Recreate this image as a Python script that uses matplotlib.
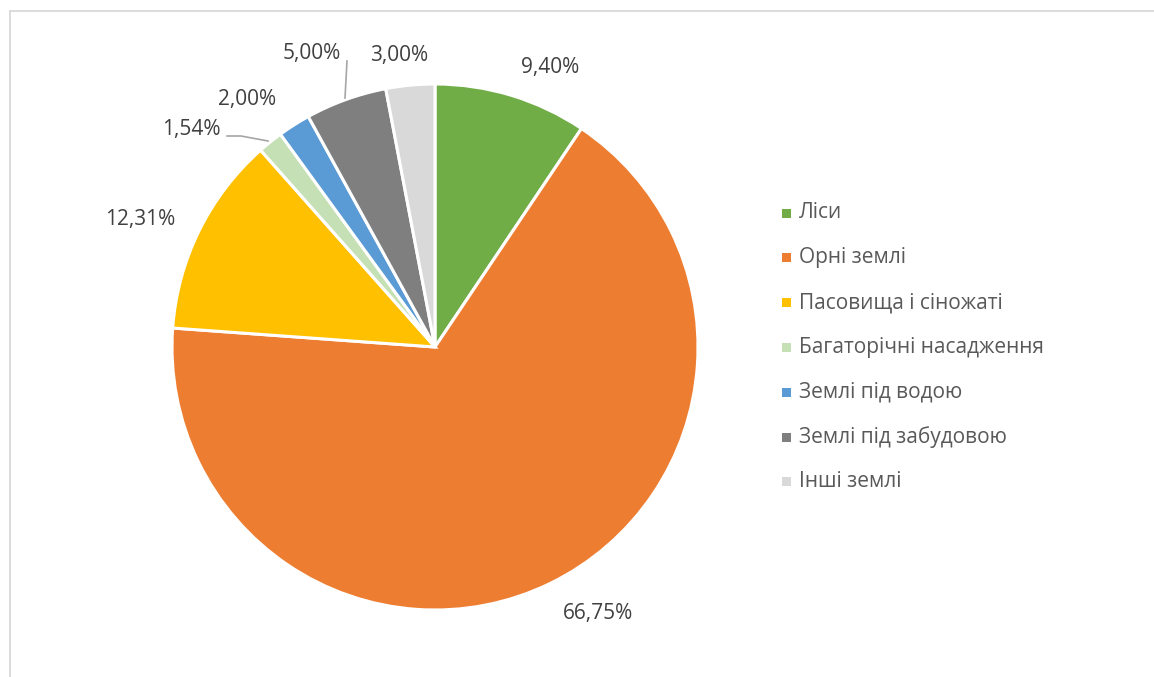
import matplotlib
matplotlib.use("Agg")
import matplotlib.pyplot as plt
from matplotlib.patches import Rectangle
from matplotlib.lines import Line2D

categories = ["Ліси", "Орні землі", "Пасовища і сіножаті", "Багаторічні насадження",
              "Землі під водою", "Землі під забудовою", "Інші землі"]
values = [9.40, 66.75, 12.31, 1.54, 2.00, 5.00, 3.00]
value_labels = ["9,40%", "66,75%", "12,31%", "1,54%", "2,00%", "5,00%", "3,00%"]
colors = ["#70AD47", "#ED7D31", "#FFC000", "#C5E0B4", "#5B9BD5", "#7F7F7F", "#D9D9D9"]

# label positions in pixel coordinates (x, y from top)
label_pos = [(550, 68), (598, 613), (140, 219), (191, 130), (247, 99), (312, 54), (399, 56)]

W, H = 1154, 677
plt.rcParams['font.family'] = ['Open Sans', 'DejaVu Sans']

fig = plt.figure(figsize=(W / 100, H / 100), dpi=100)
ax = fig.add_axes([0, 0, 1, 1])

cx, cy, r = 435, 347, 263
ax.pie(values, colors=colors, startangle=90, counterclock=False,
       center=(cx, H - cy), radius=r,
       wedgeprops=dict(edgecolor="white", linewidth=2.2))
ax.set_xlim(0, W)
ax.set_ylim(0, H)
ax.set_aspect('auto')
ax.axis('off')

label_color = "#404040"
for (x, y), t in zip(label_pos, value_labels):
    ax.text(x, H - y, t, ha='center', va='center', fontsize=15, color=label_color)

# leader lines
lc = "#A6A6A6"
ax.add_line(Line2D([227, 241, 268], [H - 136, H - 136, H - 141], color=lc, lw=1.2))
ax.add_line(Line2D([347, 347, 345], [H - 61, H - 61, H - 98], color=lc, lw=1.2))

# legend
leg_color = "#595959"
for i, (c, name) in enumerate(zip(colors, categories)):
    y = 213 + i * 44.8
    ax.add_patch(Rectangle((782, H - y - 4.5), 9, 9, facecolor=c, edgecolor='none'))
    ax.text(799, H - y, name, ha='left', va='center', fontsize=15, color=leg_color)

# chart border (left and top visible)
bc = "#D9D9D9"
ax.add_line(Line2D([9.5, 9.5], [0, H - 11], color=bc, lw=1.3))
ax.add_line(Line2D([9.5, W], [H - 11, H - 11], color=bc, lw=1.3))

fig.savefig("out.png", dpi=100, facecolor="white")
